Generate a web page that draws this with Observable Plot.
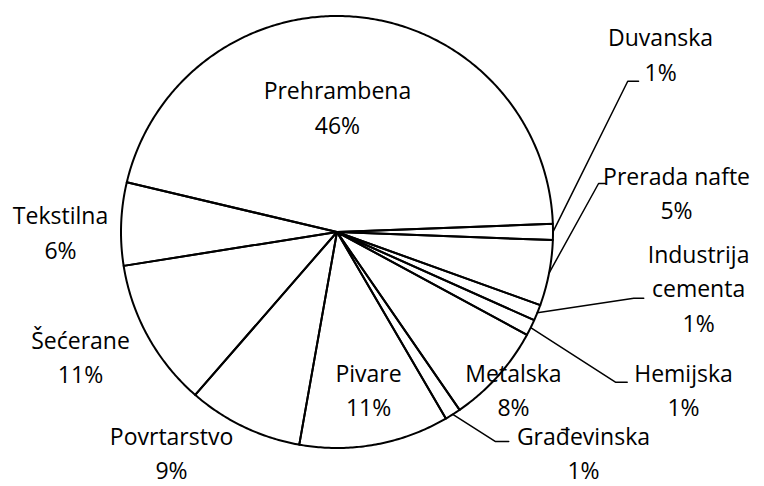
<!DOCTYPE html>
<html>
<head>
<meta charset="utf-8">
<script src="https://cdn.jsdelivr.net/npm/d3@7"></script>
<script src="https://cdn.jsdelivr.net/npm/@observablehq/plot@0.6"></script>
<style>
  html, body { margin: 0; padding: 0; background: #fff; }
</style>
</head>
<body>
<div id="chart"></div>
<script>
// ---- data ----
const categories = ["Prehrambena", "Duvanska", "Prerada nafte", "Industrija cementa", "Hemijska",
  "Metalska", "Građevinska", "Pivare", "Povrtarstvo", "Šećerane", "Tekstilna"];
const shares = [45.7, 1.2, 4.9, 1.2, 1.2, 7.5, 1.2, 11.2, 8.6, 11.1, 6.2];
const labelNames = ["Prehrambena", "Duvanska", "Prerada nafte", "Industrija\ncementa", "Hemijska",
  "Metalska", "Građevinska", "Pivare", "Povrtarstvo", "Šećerane", "Tekstilna"];

// ---- layout (unit-radius coordinates, y up) ----
const labelPos = [
  [0.002, 0.585], [1.498, 0.832], [1.572, 0.191], [1.674, -0.251], [1.604, -0.721],
  [0.817, -0.723], [1.141, -1.014], [0.146, -0.723], [-0.766, -1.014], [-1.1875, -0.570], [-1.280, 0.008]
];
const leaderElbows = {
  "Duvanska": [[1.346, 0.698], [1.396, 0.698]],
  "Prerada nafte": [[1.211, 0.2245], [1.243, 0.2245]],
  "Industrija cementa": [[1.374, -0.3065], [1.420, -0.3065]],
  "Hemijska": [[1.289, -0.6954], [1.3435, -0.6954]],
  "Građevinska": [[0.734, -0.970], [0.795, -0.970]]
};
const startDeg = 283.3;

// ---- build geometry through d3.pie ----
const data = categories.map((c, i) => ({ name: c, value: shares[i], label: labelNames[i], pos: labelPos[i] }));
const pie = d3.pie().sort(null).value(d => d.value)
  .startAngle(startDeg * Math.PI / 180).endAngle(startDeg * Math.PI / 180 + 2 * Math.PI);
const arcs = pie(data);

const slicePts = [];
for (const a of arcs) {
  const n = Math.max(4, Math.ceil((a.endAngle - a.startAngle) / 0.01));
  slicePts.push({ name: a.data.name, x: 0, y: 0 });
  for (let k = 0; k <= n; k++) {
    const t = a.startAngle + (a.endAngle - a.startAngle) * k / n;
    slicePts.push({ name: a.data.name, x: Math.sin(t), y: Math.cos(t) });
  }
  slicePts.push({ name: a.data.name, x: 0, y: 0 });
}

const leaderPts = [];
for (const a of arcs) {
  const el = leaderElbows[a.data.name];
  if (!el) continue;
  const mid = (a.startAngle + a.endAngle) / 2;
  leaderPts.push({ name: a.data.name, x: Math.sin(mid), y: Math.cos(mid) });
  for (const p of el) leaderPts.push({ name: a.data.name, x: p[0], y: p[1] });
}

const labels = data.map(d => ({
  x: d.pos[0], y: d.pos[1],
  text: d.label + "\n" + Math.round(d.value) + "%"
}));

const cx = 336.5, cy = 231.5, r = 216;
const chart = Plot.plot({
  width: 764,
  height: 486,
  margin: 0,
  x: { domain: [-1, 1], range: [cx - r, cx + r], axis: null },
  y: { domain: [-1, 1], range: [cy + r, cy - r], axis: null },
  style: { background: "#fff", fontFamily: "'Open Sans', sans-serif" },
  marks: [
    Plot.line(slicePts, { x: "x", y: "y", z: "name", stroke: "#000", strokeWidth: 2, strokeLinejoin: "round", curve: "linear" }),
    Plot.line(leaderPts, { x: "x", y: "y", z: "name", stroke: "#000", strokeWidth: 1.5, curve: "linear" }),
    Plot.text(labels, { x: "x", y: "y", text: "text", fontSize: 23, lineHeight: 1.5, fill: "#000", textAnchor: "middle" })
  ]
});
document.getElementById("chart").appendChild(chart);
</script>
</body>
</html>
